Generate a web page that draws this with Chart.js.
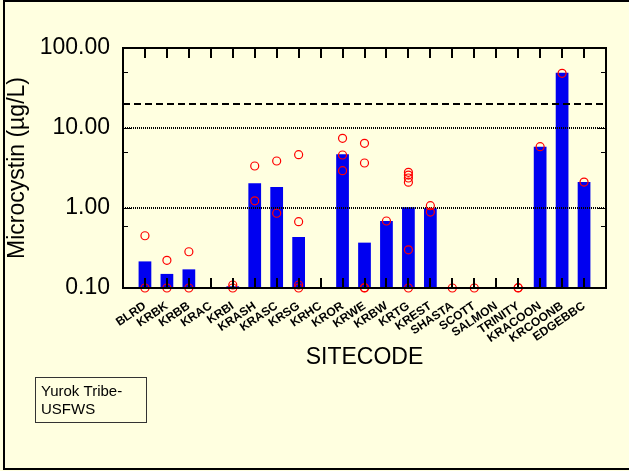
<!DOCTYPE html>
<html>
<head>
<meta charset="utf-8">
<script src="https://cdn.jsdelivr.net/npm/chart.js@4.4.1/dist/chart.umd.min.js"></script>
<style>
  html, body { margin: 0; padding: 0; background: #ffffe0; }
  canvas { display: block; }
</style>
</head>
<body>
<canvas id="myChart" width="629" height="471"></canvas>
<script>
// site codes along the x axis
var sites = ["BLRD", "KRBK", "KRBB", "KRAC", "KRBI", "KRASH", "KRASC", "KRSG", "KRHC",
  "KROR", "KRWE", "KRBW", "KRTG", "KREST", "SHASTA", "SCOTT", "SALMON", "TRINITY",
  "KRACOON", "KRCOONB", "EDGEBBC"];

// bar heights (null = no bar)
var barValues = [0.215, 0.15, 0.171, null, 0.105, 2.04, 1.83, 0.434, null,
  4.69, 0.369, 0.688, 1.02, 0.99, null, null, null, null,
  5.84, 49, 2.11];

// individual samples (red circles) per site
var samples = [
  [0.45, 0.1],
  [0.222, 0.1],
  [0.284, 0.1],
  [],
  [0.109, 0.1],
  [3.35, 1.23],
  [3.87, 0.86],
  [4.64, 0.674, 0.109, 0.1],
  [],
  [7.43, 4.6, 2.93],
  [6.43, 3.65, 0.1, 0.101],
  [0.688],
  [2.79, 2.58, 2.37, 2.1, 0.3, 0.1],
  [1.07, 0.89],
  [0.1],
  [0.1],
  [],
  [0.1, 0.101],
  [5.84],
  [48.3],
  [2.11]
];

// reference levels
var dashedLevel = 20;
var dottedLevels = [1, 10];
var yMajorTicks = [0.1, 1, 10, 100];

// pad one empty slot at each end so the axis runs a full step past the sites
var labels = [""].concat(sites).concat([""]);

var barData = [null].concat(barValues).concat([null]);

var sampleData = [];
sites.forEach(function (site, i) {
  samples[i].forEach(function (v) {
    sampleData.push({ x: site, y: v });
  });
});

function flatLine(v) {
  return labels.map(function () { return v; });
}

var FONT = "'Liberation Sans', Arial, sans-serif";

var decorPlugin = {
  id: "decor",
  beforeDraw: function (chart) {
    var c = chart.ctx;
    c.save();
    c.fillStyle = "#ffffe0";
    c.fillRect(0, 0, chart.width, chart.height);
    c.restore();
  },
  afterDraw: function (chart) {
    var c = chart.ctx;
    var a = chart.chartArea;
    var xs = chart.scales.x;
    var ys = chart.scales.y;
    c.save();
    c.strokeStyle = "#000";

    // x ticks, inside, top and bottom
    c.lineWidth = 2;
    c.beginPath();
    for (var i = 1; i <= sites.length; i++) {
      var px = Math.round(xs.getPixelForValue(i));
      c.moveTo(px, a.bottom);
      c.lineTo(px, a.bottom - 10);
      c.moveTo(px, a.top);
      c.lineTo(px, a.top + 10);
    }
    c.stroke();

    // y ticks, inside, left and right
    c.lineWidth = 1;
    c.beginPath();
    ys.ticks.forEach(function (t) {
      var py = Math.round(ys.getPixelForValue(t.value)) + 0.5;
      var len = yMajorTicks.indexOf(t.value) >= 0 ? 8 : 5;
      c.moveTo(a.left, py);
      c.lineTo(a.left + len, py);
      c.moveTo(a.right, py);
      c.lineTo(a.right - len, py);
    });
    c.stroke();

    // plot frame
    c.lineWidth = 2;
    c.strokeRect(a.left, a.top, a.right - a.left, a.bottom - a.top);

    // outer frame
    c.lineWidth = 2;
    c.strokeRect(4, 1, chart.width + 10, chart.height - 3);

    // credit box
    c.lineWidth = 1;
    c.strokeStyle = "#333";
    c.strokeRect(35.5, 377.5, 111, 45);
    c.fillStyle = "#000";
    c.font = "15px " + FONT;
    c.textBaseline = "alphabetic";
    c.fillText("Yurok Tribe-", 41, 396);
    c.fillText("USFWS", 41, 414);
    c.restore();
  }
};

var ctx = document.getElementById("myChart").getContext("2d");

var myChart = new Chart(ctx, {
  type: "bar",
  data: {
    labels: labels,
    datasets: [
      {
        label: "samples",
        type: "line",
        data: sampleData,
        showLine: false,
        pointStyle: "circle",
        pointRadius: 4,
        pointBorderWidth: 1.2,
        pointBorderColor: "#ff0000",
        pointBackgroundColor: "rgba(0,0,0,0)",
        clip: false,
        order: 0
      },
      {
        label: "dashed",
        type: "line",
        data: flatLine(dashedLevel),
        borderColor: "#000",
        borderWidth: 2,
        borderDash: [7, 4],
        pointRadius: 0,
        order: 1
      },
      {
        label: "dotted 10",
        type: "line",
        data: flatLine(dottedLevels[1]),
        borderColor: "#000",
        borderWidth: 2,
        borderDash: [1, 1],
        pointRadius: 0,
        order: 1
      },
      {
        label: "dotted 1",
        type: "line",
        data: flatLine(dottedLevels[0]),
        borderColor: "#000",
        borderWidth: 2,
        borderDash: [1, 1],
        pointRadius: 0,
        order: 1
      },
      {
        label: "mean",
        data: barData,
        backgroundColor: "#0000f0",
        borderWidth: 0,
        barPercentage: 0.58,
        categoryPercentage: 1,
        order: 2
      }
    ]
  },
  options: {
    responsive: false,
    animation: false,
    events: [],
    layout: { padding: { left: 0, top: 48, right: 23, bottom: 98 } },
    plugins: {
      legend: { display: false },
      tooltip: { enabled: false }
    },
    scales: {
      x: {
        type: "category",
        offset: false,
        grid: { display: false },
        border: { display: false },
        afterFit: function (s) { s.height = 85; },
        ticks: {
          autoSkip: false,
          maxRotation: 34,
          minRotation: 34,
          padding: 3,
          color: "#000",
          font: { family: FONT, size: 12, weight: "bold" }
        },
        title: {
          display: true,
          text: "SITECODE",
          color: "#000",
          font: { family: FONT, size: 23 },
          padding: { top: 0, bottom: 2 }
        }
      },
      y: {
        type: "logarithmic",
        min: 0.1,
        max: 100,
        grid: { display: false },
        border: { display: false },
        afterFit: function (s) { s.width = 123; },
        ticks: {
          color: "#000",
          padding: 5,
          font: { family: FONT, size: 23 },
          callback: function (v) {
            return yMajorTicks.indexOf(v) >= 0 ? v.toFixed(2) : "";
          }
        },
        title: {
          display: true,
          text: "Microcystin (\u00b5g/L)",
          color: "#000",
          font: { family: FONT, size: 23 },
          padding: { top: 4, bottom: 0 }
        }
      }
    }
  },
  plugins: [decorPlugin]
});
</script>
</body>
</html>
